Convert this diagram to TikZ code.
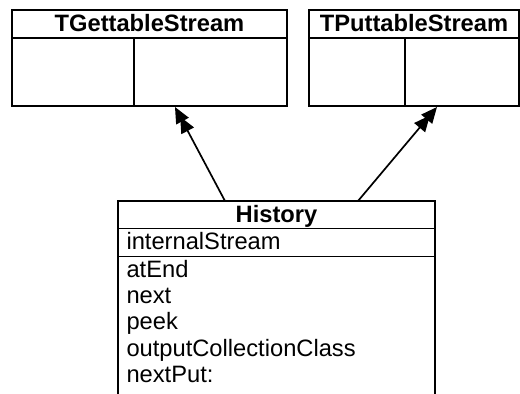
\documentclass[tikz,border=0pt]{standalone}
\usepackage{fontspec}
\setmainfont{Liberation Sans}
\usetikzlibrary{positioning, arrows.meta}
\tikzset{
x=1pt, y=-1pt, % one unit is one pixel, y runs downwards
every node/.style={outer sep=0pt, font=\fontsize{23.7}{26.4}\selectfont}, % plain text size
classtitle/.style={draw, line width=1.3pt, font=\bfseries\fontsize{23.7}{26.4}\selectfont, minimum height=28pt, text height=15pt, text depth=0pt, anchor=north west}, % the bar with the class name
compart/.style={draw, line width=1.3pt, inner sep=0pt}, % an empty compartment
slot/.style={draw, line width=1.3pt, inner xsep=8.5pt, inner ysep=0pt, align=left, text height=15pt, text depth=2pt}, % the attribute row
optext/.style={inner sep=0pt, align=left}, % list of methods
frame/.style={draw, line width=2pt}, % outer border of a class
inherit/.style={line width=1.7pt, -{Triangle[length=16pt,width=14pt,sep=-5pt] Triangle[length=16pt,width=14pt]}}, % double-headed arrow
}

\begin{document}
\begin{tikzpicture}
    \useasboundingbox (0,0) rectangle (520,394);
    \clip (0,0) rectangle (520,394);
    % TGettableStream
    \node[classtitle, minimum width=275pt] (gettitle) at (12,10) {TGettableStream};
    \node[compart, minimum width=122pt, minimum height=68pt, below right=0pt and 0pt of gettitle.south west] (getattrs) {};
    \node[compart, minimum width=153pt, minimum height=68pt, right=0pt of getattrs] (getops) {};
    \draw[frame] (gettitle.north west) rectangle (getops.south east);
    % TPuttableStream
    \node[classtitle, minimum width=210pt] (puttitle) at (309,10) {TPuttableStream};
    \node[compart, minimum width=96pt, minimum height=68pt, below right=0pt and 0pt of puttitle.south west] (putattrs) {};
    \node[compart, minimum width=114pt, minimum height=68pt, right=0pt of putattrs] (putops) {};
    \draw[frame] (puttitle.north west) rectangle (putops.south east);
    % History
    \node[classtitle, minimum width=317pt, minimum height=27.5pt] (histtitle) at (118,201) {History};
    \node[slot, text width=300pt, minimum height=28pt, below right=0pt and 0pt of histtitle.south west] (histattrs) {internalStream};
    \node[compart, minimum width=317pt, minimum height=138.5pt, below right=0pt and 0pt of histattrs.south west] (histops) {};
    \node[optext, below right=3.5pt and 8.5pt of histattrs.south west] (histoptext) {atEnd\\next\\peek\\outputCollectionClass\\nextPut:};
    \draw[frame] (histtitle.north west) rectangle (histops.south east);
    % inheritance
    \draw[inherit] ([xshift=107pt]histtitle.north west) -- ([xshift=41pt,yshift=-1pt]getops.south west);
    \draw[inherit] ([xshift=240pt]histtitle.north west) -- ([xshift=32pt,yshift=-1pt]putops.south west);
\end{tikzpicture}
\end{document}
